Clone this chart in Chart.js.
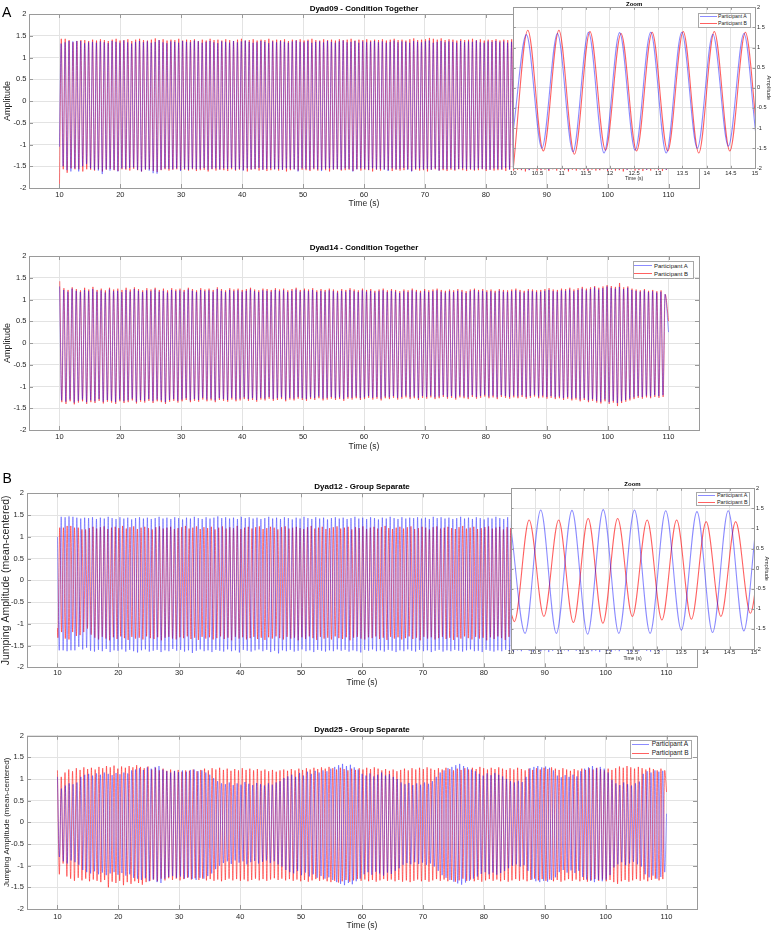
<!DOCTYPE html>
<html><head><meta charset="utf-8">
<script src="https://cdn.jsdelivr.net/npm/chart.js@4.4.1/dist/chart.umd.min.js"></script>
<style>
html,body{margin:0;padding:0;background:#fff;}
#wrap{position:relative;width:774px;height:933px;overflow:hidden;font-family:"Liberation Sans",Arial,Helvetica,sans-serif;}
canvas{position:absolute;}
.lbl{position:absolute;font-size:14px;line-height:14px;color:#000;z-index:5;}
.leg{position:absolute;background:#fff;border:1px solid #a8a8a8;box-sizing:border-box;z-index:5;}
.leg span{position:absolute;white-space:nowrap;color:#222;line-height:1;}
.leg i{position:absolute;height:0;border-top-width:1px;border-top-style:solid;}
</style></head><body><div id="wrap">
<div class="lbl" style="left:2px;top:5px;">A</div>
<div class="lbl" style="left:2.5px;top:471px;">B</div>
</div>
<script>
// ---------------- tick labels ----------------
const X_TICKS = [10,20,30,40,50,60,70,80,90,100,110];
const Y_TICKS = [-2,-1.5,-1,-0.5,0,0.5,1,1.5,2];
const ZOOM_X_TICKS = [10,10.5,11,11.5,12,12.5,13,13.5,14,14.5,15];
const SERIES_NAMES = ['Participant A','Participant B'];

// ---------------- Dyad09 (Condition Together) ----------------
const d09A_timing = {start:[10,-1.05], first:10.27, half:0.3215, firstIsPeak:true, end:[110,0.2]};
const d09B_timing = {start:[10,-2.0], first:10.30, half:0.3215, firstIsPeak:true, end:[110,0.1]};
const d09A_peaks = [1.32,1.35,1.38,1.37,1.38,1.38,1.33,1.35,1.36,1.34,
1.37,1.35,1.33,1.38,1.36,1.34,1.39,1.35,1.32,1.36,1.38,1.35,1.37,1.34,1.36,1.40,1.35,1.33,1.37,1.36,
1.34,1.38,1.36,1.35,1.39,1.37,1.34,1.36,1.38,1.35,1.33,1.37,1.36,1.34,1.38,1.35,1.37,1.39,1.36,1.34,
1.35,1.38,1.36,1.33,1.37,1.35,1.38,1.36,1.34,1.37,1.39,1.36,1.35,1.38,1.34,1.36,1.37,1.35,1.38,1.36,
1.34,1.37,1.39,1.35,1.36,1.38,1.34,1.37,1.35,1.36,1.38,1.35,1.37,1.34,1.36,1.39,1.35,1.37,1.36,1.34,
1.38,1.36,1.35,1.37,1.39,1.34,1.36,1.38,1.35,1.37,1.36,1.34,1.38,1.35,1.37,1.36,1.39,1.35,1.34,1.37,
1.36,1.38,1.35,1.37,1.34,1.36,1.38,1.35,1.37,1.36,1.34,1.38,1.36,1.35,1.37,1.39,1.35,1.36,1.38,1.34,
1.37,1.35,1.36,1.38,1.35,1.37,1.34,1.36,1.38,1.35,1.37,1.36,1.34,1.38,1.35,1.37,1.36,1.35,1.38,1.36,
1.34,1.37,1.35,1.36,1.38];
const d09A_troughs = [-1.50,-1.59,-1.62,-1.55,-1.62,-1.50,-1.45,-1.55,-1.58,-1.60,
-1.68,-1.57,-1.60,-1.58,-1.62,-1.55,-1.56,-1.54,-1.53,-1.58,-1.62,-1.57,-1.60,-1.66,-1.67,-1.58,-1.55,-1.56,-1.57,-1.55,
-1.61,-1.56,-1.58,-1.55,-1.57,-1.56,-1.54,-1.58,-1.56,-1.55,-1.57,-1.55,-1.56,-1.54,-1.58,-1.56,-1.60,-1.55,-1.57,-1.56,
-1.54,-1.58,-1.56,-1.55,-1.57,-1.56,-1.58,-1.55,-1.56,-1.57,-1.62,-1.55,-1.56,-1.58,-1.55,-1.57,-1.61,-1.56,-1.55,-1.57,
-1.56,-1.58,-1.55,-1.56,-1.62,-1.57,-1.55,-1.56,-1.58,-1.55,-1.57,-1.56,-1.58,-1.61,-1.55,-1.57,-1.56,-1.54,-1.58,-1.62,
-1.56,-1.55,-1.57,-1.56,-1.58,-1.55,-1.60,-1.56,-1.57,-1.55,-1.58,-1.56,-1.55,-1.57,-1.56,-1.58,-1.55,-1.56,-1.57,-1.58,
-1.55,-1.56,-1.57,-1.54,-1.58,-1.56,-1.55,-1.57,-1.56,-1.59,-1.55,-1.56,-1.57,-1.55,-1.58,-1.56,-1.55,-1.57,-1.56,-1.58,
-1.55,-1.56,-1.57,-1.55,-1.58,-1.56,-1.55,-1.57,-1.56,-1.58,-1.55,-1.56,-1.57,-1.55,-1.58,-1.56,-1.55,-1.57,-1.56,-1.58,
-1.55,-1.56,-1.57,-1.55,-1.58];
const d09B_peaks = [1.43,1.43,1.40,1.35,1.38,1.40,1.40,1.38,1.41,1.39,
1.42,1.40,1.38,1.41,1.43,1.39,1.40,1.42,1.38,1.41,1.43,1.40,1.39,1.41,1.44,1.40,1.42,1.39,1.41,1.40,
1.43,1.39,1.41,1.40,1.42,1.38,1.41,1.39,1.43,1.40,1.41,1.39,1.42,1.40,1.38,1.41,1.43,1.39,1.40,1.42,
1.39,1.41,1.40,1.43,1.39,1.41,1.40,1.42,1.38,1.41,1.40,1.42,1.39,1.41,1.43,1.40,1.39,1.42,1.40,1.41,
1.39,1.42,1.40,1.41,1.43,1.39,1.41,1.40,1.42,1.39,1.41,1.40,1.42,1.39,1.41,1.43,1.40,1.41,1.39,1.42,
1.44,1.40,1.41,1.42,1.45,1.43,1.41,1.44,1.40,1.42,1.41,1.39,1.42,1.40,1.41,1.43,1.40,1.42,1.39,1.41,
1.40,1.42,1.39,1.41,1.40,1.42,1.41,1.39,1.42,1.40,1.41,1.43,1.40,1.42,1.39,1.41,1.40,1.42,1.41,1.39,
1.42,1.40,1.41,1.43,1.40,1.42,1.39,1.41,1.40,1.42,1.41,1.39,1.42,1.40,1.41,1.43,1.40,1.42,1.39,1.41,
1.40,1.42,1.41,1.39,1.42];
const d09B_troughs = [-1.57,-1.65,-1.55,-1.57,-1.57,-1.62,-1.57,-1.58,-1.60,-1.57,
-1.62,-1.58,-1.56,-1.59,-1.61,-1.57,-1.58,-1.60,-1.56,-1.59,-1.62,-1.58,-1.57,-1.61,-1.63,-1.59,-1.57,-1.60,-1.58,-1.57,
-1.59,-1.58,-1.60,-1.57,-1.61,-1.59,-1.58,-1.62,-1.57,-1.60,-1.58,-1.59,-1.61,-1.57,-1.60,-1.58,-1.59,-1.62,-1.58,-1.57,
-1.60,-1.58,-1.61,-1.59,-1.57,-1.60,-1.58,-1.62,-1.59,-1.57,-1.60,-1.58,-1.59,-1.61,-1.57,-1.60,-1.58,-1.59,-1.62,-1.58,
-1.57,-1.60,-1.59,-1.58,-1.61,-1.57,-1.60,-1.58,-1.59,-1.62,-1.58,-1.60,-1.57,-1.59,-1.61,-1.58,-1.60,-1.59,-1.57,-1.61,
-1.58,-1.60,-1.59,-1.62,-1.58,-1.57,-1.60,-1.59,-1.61,-1.58,-1.60,-1.57,-1.59,-1.61,-1.58,-1.60,-1.59,-1.57,-1.61,-1.58,
-1.60,-1.59,-1.58,-1.61,-1.57,-1.60,-1.58,-1.59,-1.62,-1.58,-1.57,-1.60,-1.59,-1.58,-1.61,-1.57,-1.60,-1.58,-1.59,-1.62,
-1.58,-1.60,-1.57,-1.59,-1.61,-1.58,-1.60,-1.59,-1.57,-1.61,-1.58,-1.60,-1.59,-1.62,-1.58,-1.57,-1.60,-1.59,-1.61,-1.58,
-1.60,-1.57,-1.59,-1.61,-1.58];

// ---------------- Dyad14 (Condition Together) ----------------
const d14A_timing = {start:null, first:10.02, half:0.3404, firstIsPeak:true, end:[110,0.25]};
const d14B_timing = {start:null, first:10.05, half:0.3404, firstIsPeak:true, end:[110,0.5]};
const d14A_peaks = [1.30,1.22,1.18,1.25,1.20,1.17,1.22,1.19,1.24,1.18,
1.21,1.16,1.23,1.19,1.20,1.17,1.22,1.18,1.24,1.20,1.17,1.21,1.19,1.23,1.18,1.20,1.16,1.22,1.19,1.21,
1.18,1.23,1.20,1.17,1.22,1.19,1.21,1.18,1.24,1.20,1.17,1.22,1.19,1.21,1.18,1.20,1.23,1.19,1.17,1.21,
1.20,1.18,1.22,1.19,1.21,1.17,1.20,1.23,1.18,1.21,1.19,1.22,1.17,1.20,1.18,1.21,1.19,1.16,1.20,1.18,
1.22,1.19,1.17,1.21,1.18,1.20,1.16,1.19,1.21,1.17,1.20,1.18,1.15,1.19,1.17,1.21,1.18,1.16,1.20,1.17,
1.19,1.21,1.18,1.16,1.19,1.17,1.20,1.18,1.15,1.19,1.22,1.18,1.20,1.17,1.19,1.16,1.20,1.18,1.17,1.19,
1.21,1.18,1.16,1.20,1.19,1.17,1.18,1.20,1.22,1.19,1.18,1.21,1.20,1.23,1.19,1.22,1.25,1.21,1.24,1.28,
1.23,1.26,1.30,1.27,1.25,1.29,1.24,1.27,1.22,1.20,1.18,1.21,1.17,1.19,1.16,1.18,1.12];
const d14A_troughs = [-1.32,-1.35,-1.30,-1.37,-1.33,-1.30,-1.36,-1.32,-1.34,-1.29,
-1.35,-1.31,-1.33,-1.36,-1.30,-1.34,-1.32,-1.28,-1.35,-1.31,-1.33,-1.29,-1.34,-1.30,-1.32,-1.36,-1.31,-1.29,-1.33,-1.30,
-1.27,-1.32,-1.29,-1.31,-1.26,-1.30,-1.28,-1.32,-1.27,-1.29,-1.31,-1.26,-1.30,-1.28,-1.25,-1.29,-1.27,-1.31,-1.26,-1.28,
-1.24,-1.29,-1.27,-1.25,-1.30,-1.26,-1.28,-1.24,-1.27,-1.29,-1.25,-1.27,-1.23,-1.28,-1.26,-1.24,-1.27,-1.25,-1.29,-1.24,
-1.26,-1.23,-1.27,-1.25,-1.22,-1.26,-1.24,-1.28,-1.23,-1.25,-1.22,-1.26,-1.24,-1.21,-1.25,-1.23,-1.27,-1.22,-1.24,-1.21,
-1.25,-1.23,-1.20,-1.24,-1.22,-1.26,-1.21,-1.23,-1.25,-1.20,-1.24,-1.22,-1.19,-1.23,-1.21,-1.25,-1.20,-1.22,-1.24,-1.21,
-1.23,-1.20,-1.24,-1.22,-1.19,-1.23,-1.21,-1.24,-1.22,-1.25,-1.23,-1.27,-1.24,-1.28,-1.26,-1.30,-1.27,-1.32,-1.29,-1.33,
-1.35,-1.30,-1.36,-1.33,-1.38,-1.34,-1.31,-1.28,-1.25,-1.22,-1.24,-1.21,-1.23,-1.20,-1.22,-1.20];
const d14B_peaks = [1.42,1.26,1.22,1.28,1.24,1.21,1.27,1.23,1.29,1.22,
1.25,1.21,1.27,1.23,1.25,1.22,1.27,1.23,1.28,1.24,1.21,1.26,1.23,1.27,1.22,1.25,1.21,1.26,1.23,1.25,
1.22,1.27,1.24,1.21,1.26,1.23,1.25,1.22,1.28,1.24,1.21,1.26,1.23,1.25,1.22,1.24,1.27,1.23,1.21,1.25,
1.24,1.22,1.26,1.23,1.25,1.21,1.24,1.27,1.22,1.25,1.23,1.26,1.21,1.24,1.22,1.25,1.23,1.20,1.24,1.22,
1.26,1.23,1.21,1.25,1.22,1.24,1.20,1.23,1.25,1.21,1.24,1.22,1.19,1.23,1.21,1.25,1.22,1.20,1.24,1.21,
1.23,1.25,1.22,1.20,1.23,1.21,1.24,1.22,1.19,1.23,1.25,1.22,1.24,1.21,1.23,1.20,1.24,1.22,1.21,1.23,
1.25,1.22,1.20,1.24,1.23,1.21,1.22,1.24,1.26,1.23,1.22,1.25,1.24,1.27,1.23,1.26,1.29,1.25,1.28,1.31,
1.27,1.30,1.33,1.31,1.29,1.38,1.28,1.30,1.25,1.23,1.21,1.24,1.20,1.22,1.19,1.21,1.12];
const d14B_troughs = [-1.36,-1.40,-1.34,-1.41,-1.37,-1.34,-1.40,-1.36,-1.38,-1.33,
-1.39,-1.35,-1.37,-1.40,-1.34,-1.38,-1.36,-1.32,-1.39,-1.35,-1.37,-1.33,-1.38,-1.34,-1.36,-1.40,-1.35,-1.33,-1.37,-1.34,
-1.31,-1.36,-1.33,-1.35,-1.30,-1.34,-1.32,-1.36,-1.31,-1.33,-1.35,-1.30,-1.34,-1.32,-1.29,-1.33,-1.31,-1.35,-1.30,-1.32,
-1.28,-1.33,-1.31,-1.29,-1.34,-1.30,-1.32,-1.28,-1.31,-1.33,-1.29,-1.31,-1.27,-1.32,-1.30,-1.28,-1.31,-1.29,-1.33,-1.28,
-1.30,-1.27,-1.31,-1.29,-1.26,-1.30,-1.28,-1.32,-1.27,-1.29,-1.26,-1.30,-1.28,-1.25,-1.29,-1.27,-1.31,-1.26,-1.28,-1.25,
-1.29,-1.27,-1.24,-1.28,-1.26,-1.30,-1.25,-1.27,-1.29,-1.24,-1.28,-1.26,-1.23,-1.27,-1.25,-1.29,-1.24,-1.26,-1.28,-1.25,
-1.27,-1.24,-1.28,-1.26,-1.23,-1.27,-1.25,-1.28,-1.26,-1.29,-1.27,-1.31,-1.28,-1.32,-1.30,-1.34,-1.31,-1.36,-1.33,-1.37,
-1.39,-1.34,-1.40,-1.37,-1.45,-1.38,-1.35,-1.32,-1.29,-1.26,-1.28,-1.25,-1.27,-1.24,-1.26,-1.24];

// ---------------- Dyad12 (Group Separate) ----------------
const d12A_timing = {start:[10,1.0], first:10.29, half:0.3215, firstIsPeak:false, end:[110,0.0]};
const d12B_timing = {start:[10,-1.1], first:10.07, half:0.3035, firstIsPeak:false, end:[110,0.3]};
const d12A_peaks = [1.46,1.45,1.47,1.46,1.44,1.42,1.44,1.43,1.45,1.41,
1.44,1.42,1.46,1.43,1.41,1.45,1.42,1.44,1.40,1.43,1.45,1.42,1.44,1.41,1.43,1.46,1.42,1.44,1.41,1.45,
1.43,1.40,1.44,1.42,1.46,1.43,1.41,1.45,1.42,1.44,1.47,1.43,1.45,1.42,1.44,1.41,1.46,1.43,1.45,1.42,
1.44,1.41,1.43,1.46,1.42,1.44,1.41,1.45,1.43,1.40,1.44,1.42,1.46,1.43,1.41,1.45,1.42,1.44,1.40,1.43,
1.45,1.42,1.44,1.41,1.43,1.46,1.42,1.44,1.41,1.45,1.43,1.40,1.44,1.42,1.46,1.43,1.41,1.45,1.42,1.44,
1.43,1.45,1.42,1.44,1.41,1.46,1.43,1.45,1.42,1.44,1.41,1.43,1.46,1.42,1.44,1.41,1.45,1.43,1.40,1.44,
1.42,1.46,1.43,1.41,1.45,1.42,1.44,1.40,1.43,1.45,1.42,1.44,1.41,1.43,1.46,1.42,1.44,1.41,1.45,1.43,
1.40,1.44,1.42,1.46,1.43,1.41,1.45,1.42,1.44,1.43,1.45,1.42,1.44,1.41,1.46,1.43,1.45,1.42,1.44,1.41,
1.43,1.46,1.42,1.44,1.41];
const d12A_troughs = [-1.61,-1.61,-1.63,-1.61,-1.61,-1.53,-1.59,-1.55,-1.62,-1.64,
-1.60,-1.63,-1.58,-1.65,-1.61,-1.62,-1.59,-1.64,-1.60,-1.63,-1.66,-1.61,-1.59,-1.64,-1.62,-1.60,-1.65,-1.61,-1.63,-1.58,
-1.62,-1.60,-1.64,-1.61,-1.67,-1.62,-1.59,-1.63,-1.61,-1.65,-1.60,-1.62,-1.64,-1.59,-1.63,-1.61,-1.66,-1.60,-1.62,-1.64,
-1.61,-1.59,-1.63,-1.60,-1.65,-1.62,-1.68,-1.61,-1.63,-1.60,-1.64,-1.62,-1.59,-1.63,-1.61,-1.65,-1.60,-1.62,-1.64,-1.61,
-1.63,-1.59,-1.62,-1.60,-1.64,-1.61,-1.63,-1.66,-1.60,-1.62,-1.59,-1.63,-1.61,-1.64,-1.60,-1.62,-1.65,-1.61,-1.63,-1.59,
-1.62,-1.64,-1.60,-1.63,-1.61,-1.65,-1.62,-1.60,-1.64,-1.61,-1.63,-1.60,-1.62,-1.64,-1.61,-1.59,-1.63,-1.62,-1.65,-1.60,
-1.62,-1.64,-1.61,-1.63,-1.60,-1.62,-1.65,-1.61,-1.63,-1.59,-1.62,-1.64,-1.60,-1.63,-1.61,-1.65,-1.62,-1.60,-1.64,-1.61,
-1.63,-1.60,-1.62,-1.64,-1.61,-1.59,-1.63,-1.62,-1.65,-1.60,-1.62,-1.64,-1.61,-1.63,-1.60,-1.62,-1.65,-1.61,-1.63,-1.59,
-1.62,-1.64,-1.60,-1.63,-1.61];
const d12B_peaks = [1.21,1.21,1.25,1.25,1.21,1.21,1.17,1.17,1.20,1.23,
1.19,1.22,1.24,1.18,1.21,1.23,1.20,1.25,1.19,1.22,1.24,1.18,1.21,1.23,1.20,1.17,1.22,1.24,1.19,1.21,
1.23,1.18,1.20,1.22,1.25,1.19,1.21,1.24,1.18,1.22,1.20,1.23,1.17,1.21,1.24,1.19,1.22,1.20,1.25,1.18,
1.21,1.23,1.19,1.22,1.24,1.18,1.20,1.23,1.21,1.17,1.22,1.24,1.19,1.21,1.23,1.20,1.18,1.22,1.25,1.19,
1.21,1.23,1.18,1.20,1.22,1.24,1.19,1.21,1.23,1.17,1.22,1.20,1.24,1.18,1.21,1.23,1.19,1.22,1.25,1.20,
1.18,1.21,1.23,1.19,1.22,1.24,1.18,1.20,1.23,1.21,1.17,1.22,1.24,1.19,1.21,1.23,1.20,1.18,1.22,1.25,
1.19,1.21,1.23,1.18,1.20,1.22,1.24,1.19,1.21,1.23,1.17,1.22,1.20,1.24,1.18,1.21,1.23,1.19,1.22,1.25,
1.20,1.18,1.21,1.23,1.19,1.22,1.24,1.18,1.20,1.23,1.21,1.17,1.22,1.24,1.19,1.21,1.23,1.20,1.18,1.22,
1.25,1.19,1.21,1.23,1.18,1.20,1.22,1.24,1.19,1.21,1.23,1.17,1.22,1.20];
const d12B_troughs = [-1.32,-1.19,-1.34,-1.36,-1.19,-1.28,-1.26,-1.19,-1.11,-1.25,
-1.32,-1.36,-1.30,-1.34,-1.38,-1.31,-1.35,-1.29,-1.33,-1.37,-1.30,-1.34,-1.32,-1.36,-1.29,-1.33,-1.35,-1.31,-1.38,-1.32,
-1.30,-1.34,-1.36,-1.31,-1.33,-1.29,-1.35,-1.32,-1.37,-1.30,-1.34,-1.31,-1.36,-1.33,-1.29,-1.35,-1.32,-1.38,-1.30,-1.34,
-1.31,-1.36,-1.33,-1.30,-1.35,-1.32,-1.37,-1.31,-1.34,-1.29,-1.33,-1.36,-1.30,-1.34,-1.32,-1.38,-1.31,-1.35,-1.29,-1.33,
-1.37,-1.30,-1.34,-1.32,-1.36,-1.29,-1.33,-1.35,-1.31,-1.38,-1.32,-1.30,-1.34,-1.36,-1.31,-1.33,-1.29,-1.35,-1.32,-1.37,
-1.30,-1.34,-1.31,-1.36,-1.33,-1.29,-1.35,-1.32,-1.38,-1.30,-1.34,-1.31,-1.36,-1.33,-1.30,-1.35,-1.32,-1.37,-1.31,-1.34,
-1.29,-1.33,-1.36,-1.30,-1.34,-1.32,-1.38,-1.31,-1.35,-1.29,-1.33,-1.37,-1.30,-1.34,-1.32,-1.36,-1.29,-1.33,-1.35,-1.31,
-1.38,-1.32,-1.30,-1.34,-1.36,-1.31,-1.33,-1.29,-1.35,-1.32,-1.37,-1.30,-1.34,-1.31,-1.36,-1.33,-1.29,-1.35,-1.32,-1.38,
-1.30,-1.34,-1.31,-1.36,-1.33,-1.30,-1.35,-1.32,-1.37,-1.31,-1.34,-1.29,-1.33,-1.36,-1.30];

// ---------------- Dyad25 (Group Separate) ----------------
const d25A_timing = {start:null, first:10.0, half:0.32058, firstIsPeak:true, end:[110,0.2]};
const d25B_timing = {start:null, first:10.0, half:0.30963, firstIsPeak:true, end:[110,0.7]};
const d25A_peaks = [1.05,0.78,0.85,0.90,0.88,0.92,1.05,1.10,1.12,1.08,
1.13,1.10,1.15,1.12,1.09,1.14,1.11,1.15,1.13,1.20,1.22,1.25,1.21,1.27,1.24,1.28,1.30,1.22,1.18,1.15,
1.19,1.16,1.20,1.17,1.21,1.22,1.18,1.20,1.15,1.10,1.02,0.95,0.90,0.88,0.92,0.86,0.90,0.87,0.93,0.89,
0.86,0.91,0.88,0.85,0.90,0.87,0.92,0.95,1.02,1.06,1.10,1.05,1.14,1.08,1.17,1.12,1.19,1.15,1.20,1.18,
1.24,1.28,1.32,1.35,1.30,1.33,1.27,1.22,1.12,1.08,1.13,1.06,1.10,1.15,1.08,1.11,1.05,1.00,0.92,0.88,
0.91,0.86,0.90,0.87,0.92,0.89,0.95,1.05,1.15,1.20,1.25,1.28,1.32,1.35,1.30,1.27,1.22,1.18,1.12,1.08,
1.13,1.09,1.14,1.10,1.06,1.00,0.95,0.92,0.96,0.93,1.05,1.25,1.28,1.30,1.27,1.29,1.26,1.20,1.08,1.04,
1.09,1.05,1.10,1.06,1.18,1.24,1.27,1.30,1.25,1.28,1.24,1.15,0.98,0.90,0.86,0.92,0.88,0.85,0.90,0.94,
1.12,1.18,1.15,1.20,1.17,1.19];
const d25A_troughs = [-0.80,-0.90,-0.95,-0.88,-0.92,-0.98,-1.10,-1.15,-1.18,-1.13,
-1.20,-1.16,-1.22,-1.18,-1.15,-1.21,-1.17,-1.23,-1.20,-1.28,-1.30,-1.33,-1.29,-1.36,-1.32,-1.38,-1.40,-1.30,-1.26,-1.24,
-1.28,-1.25,-1.30,-1.27,-1.31,-1.33,-1.28,-1.30,-1.24,-1.18,-1.08,-1.00,-0.94,-0.90,-0.96,-0.88,-0.93,-0.90,-0.97,-0.92,
-0.89,-0.95,-0.91,-0.88,-0.94,-0.90,-0.97,-1.02,-1.10,-1.15,-1.18,-1.12,-1.22,-1.16,-1.25,-1.20,-1.28,-1.24,-1.30,-1.27,
-1.33,-1.38,-1.42,-1.45,-1.40,-1.43,-1.36,-1.30,-1.20,-1.15,-1.21,-1.14,-1.18,-1.23,-1.16,-1.19,-1.12,-1.06,-0.98,-0.94,
-0.97,-0.92,-0.96,-0.93,-0.98,-0.95,-1.02,-1.12,-1.22,-1.28,-1.33,-1.37,-1.41,-1.44,-1.39,-1.35,-1.30,-1.25,-1.19,-1.15,
-1.20,-1.16,-1.21,-1.17,-1.12,-1.06,-1.00,-0.97,-1.02,-0.99,-1.12,-1.32,-1.36,-1.38,-1.35,-1.37,-1.33,-1.27,-1.15,-1.10,
-1.16,-1.11,-1.17,-1.12,-1.26,-1.32,-1.35,-1.38,-1.33,-1.36,-1.32,-1.22,-1.04,-0.97,-0.92,-0.99,-0.95,-0.91,-0.97,-1.02,
-1.20,-1.27,-1.23,-1.30,-1.26,-1.15];
const d25B_peaks = [1.20,1.05,1.15,1.22,1.18,1.25,1.21,1.27,1.23,1.26,
1.22,1.28,1.25,1.30,1.27,1.31,1.24,1.29,1.26,1.30,1.27,1.32,1.28,1.25,1.29,1.22,1.26,1.20,1.24,1.19,
1.22,1.18,1.21,1.17,1.20,1.19,1.22,1.18,1.21,1.24,1.20,1.25,1.22,1.26,1.21,1.24,1.19,1.23,1.20,1.25,
1.21,1.24,1.20,1.23,1.19,1.22,1.18,1.21,1.17,1.20,1.22,1.19,1.23,1.20,1.24,1.21,1.25,1.22,1.26,1.23,
1.27,1.24,1.28,1.25,1.22,1.26,1.23,1.20,1.24,1.21,1.25,1.22,1.26,1.23,1.27,1.24,1.20,1.23,1.19,1.22,
1.18,1.21,1.24,1.20,1.25,1.22,1.26,1.23,1.27,1.24,1.21,1.25,1.22,1.26,1.23,1.20,1.24,1.21,1.25,1.22,
1.26,1.23,1.28,1.25,1.22,1.26,1.23,1.27,1.24,1.21,1.25,1.22,1.26,1.23,1.20,1.24,1.21,1.25,1.22,1.26,
1.23,1.27,1.24,1.21,1.25,1.22,1.19,1.23,1.20,1.24,1.21,1.25,1.22,1.26,1.23,1.20,1.24,1.21,1.25,1.29,
1.26,1.30,1.27,1.24,1.28,1.25,1.22,1.26,1.23,1.20,1.24,1.20];
const d25B_troughs = [-1.20,-0.95,-1.25,-1.30,-1.35,-1.28,-1.34,-1.30,-1.36,-1.32,
-1.35,-1.38,-1.33,-1.50,-1.37,-1.40,-1.35,-1.45,-1.38,-1.42,-1.36,-1.40,-1.44,-1.38,-1.35,-1.32,-1.36,-1.30,-1.34,-1.29,
-1.33,-1.30,-1.34,-1.31,-1.28,-1.32,-1.29,-1.33,-1.30,-1.34,-1.31,-1.35,-1.32,-1.36,-1.33,-1.30,-1.34,-1.31,-1.35,-1.32,
-1.36,-1.33,-1.30,-1.34,-1.31,-1.35,-1.32,-1.29,-1.33,-1.30,-1.34,-1.31,-1.35,-1.32,-1.36,-1.33,-1.37,-1.34,-1.31,-1.35,
-1.32,-1.36,-1.38,-1.35,-1.39,-1.36,-1.33,-1.37,-1.34,-1.31,-1.35,-1.32,-1.36,-1.33,-1.37,-1.34,-1.31,-1.35,-1.32,-1.36,
-1.33,-1.37,-1.34,-1.38,-1.35,-1.32,-1.36,-1.33,-1.37,-1.34,-1.31,-1.35,-1.32,-1.36,-1.33,-1.37,-1.34,-1.30,-1.35,-1.32,
-1.36,-1.33,-1.37,-1.34,-1.31,-1.35,-1.32,-1.36,-1.33,-1.37,-1.34,-1.31,-1.35,-1.32,-1.36,-1.33,-1.30,-1.34,-1.31,-1.35,
-1.32,-1.36,-1.33,-1.37,-1.34,-1.31,-1.35,-1.32,-1.36,-1.33,-1.37,-1.34,-1.31,-1.35,-1.32,-1.36,-1.33,-1.38,-1.42,-1.36,
-1.33,-1.37,-1.34,-1.31,-1.35,-1.32,-1.36,-1.33,-1.30,-1.34,-1.31];

// ---------------- styles ----------------
const COLOR_A = 'rgba(0,0,255,0.45)';
const COLOR_B = 'rgba(255,0,0,0.62)';
const FONT = '"Liberation Sans", Arial, Helvetica, sans-serif';
Chart.defaults.font.family = FONT;
Chart.defaults.color = '#262626';

function buildSeries(tm, peaks, troughs) {
  const pts = [];
  if (tm.start) pts.push({x: tm.start[0], y: tm.start[1]});
  const a = tm.firstIsPeak ? peaks : troughs, b = tm.firstIsPeak ? troughs : peaks;
  for (let k = 0; ; k++) {
    const v = (k % 2 === 0) ? a[k >> 1] : b[k >> 1];
    const t = tm.first + k * tm.half;
    if (v === undefined || t >= tm.end[0] - 0.05) break;
    pts.push({x: +t.toFixed(4), y: v});
  }
  pts.push({x: tm.end[0], y: tm.end[1]});
  return pts;
}

const S = {
  d09: [buildSeries(d09A_timing, d09A_peaks, d09A_troughs), buildSeries(d09B_timing, d09B_peaks, d09B_troughs)],
  d14: [buildSeries(d14A_timing, d14A_peaks, d14A_troughs), buildSeries(d14B_timing, d14B_peaks, d14B_troughs)],
  d12: [buildSeries(d12A_timing, d12A_peaks, d12A_troughs), buildSeries(d12B_timing, d12B_peaks, d12B_troughs)],
  d25: [buildSeries(d25A_timing, d25A_peaks, d25A_troughs), buildSeries(d25B_timing, d25B_peaks, d25B_troughs)]
};

const boxPlugin = {
  id: 'box',
  beforeDraw(chart, args, opts) {
    if (!opts.white) return;
    const {ctx, chartArea: a} = chart;
    ctx.save(); ctx.fillStyle = '#fff';
    ctx.fillRect(a.left, a.top, a.right - a.left, a.bottom - a.top);
    ctx.restore();
  },
  afterDatasetsDraw(chart, args, opts) {
    const {ctx, chartArea: a} = chart;
    const xs = chart.scales.x, ys = chart.scales.y;
    const tl = opts.tick;
    ctx.save();
    ctx.strokeStyle = '#9a9a9a'; ctx.lineWidth = 1;
    ctx.beginPath();
    xs.ticks.forEach(t => { const p = Math.round(xs.getPixelForValue(t.value)) + 0.5;
      ctx.moveTo(p, a.bottom); ctx.lineTo(p, a.bottom - tl); ctx.moveTo(p, a.top); ctx.lineTo(p, a.top + tl); });
    ys.ticks.forEach(t => { const p = Math.round(ys.getPixelForValue(t.value)) + 0.5;
      ctx.moveTo(a.left, p); ctx.lineTo(a.left + tl, p); ctx.moveTo(a.right, p); ctx.lineTo(a.right - tl, p); });
    ctx.stroke();
    const l = Math.round(a.left) + 0.5, t = Math.round(a.top) + 0.5;
    ctx.strokeRect(l, t, Math.round(a.right) - Math.round(a.left), Math.round(a.bottom) - Math.round(a.top));
    ctx.restore();
  }
};

const wrap = document.getElementById('wrap');
const fmt = v => String(v);

function makePanel(c) {
  const cv = document.createElement('canvas');
  cv.width = c.w; cv.height = c.h;
  Object.assign(cv.style, {left: c.left + 'px', top: c.top + 'px', width: c.w + 'px', height: c.h + 'px', zIndex: c.z});
  wrap.appendChild(cv);
  const tLH = c.titleSize * c.titleLH;
  const yLH = c.yTitleSize * 1.2, xLH = c.xTitleSize * 1.2;
  const right = c.yPos === 'right';
  new Chart(cv.getContext('2d'), {
    type: 'line',
    data: { datasets: [
      {label: SERIES_NAMES[0], data: c.data[0], borderColor: COLOR_A, borderWidth: c.lw, pointRadius: 0, fill: false, cubicInterpolationMode: 'monotone'},
      {label: SERIES_NAMES[1], data: c.data[1], borderColor: COLOR_B, borderWidth: c.lw, pointRadius: 0, fill: false, cubicInterpolationMode: 'monotone'}
    ]},
    plugins: [boxPlugin],
    options: {
      responsive: false, animation: false, devicePixelRatio: 1, events: [], parsing: false,
      layout: {padding: {left: right ? c.L : 0, right: right ? 0 : c.w - c.R, top: 0, bottom: 0}},
      plugins: {
        legend: {display: false}, tooltip: {enabled: false},
        title: {display: true, text: c.title, fullSize: false,
          font: {size: c.titleSize, weight: 'bold', lineHeight: c.titleLH}, color: '#000',
          padding: {top: c.titleC - tLH / 2, bottom: c.T - (c.titleC + tLH / 2)}},
        box: {tick: c.tick, white: c.white}
      },
      scales: {
        x: {type: 'linear', position: 'bottom', min: c.xMin, max: c.xMax,
          afterBuildTicks: s => { s.ticks = c.xTicks.map(v => ({value: v})); },
          afterFit: s => { s.height = c.h - c.B; },
          ticks: {autoSkip: false, maxRotation: 0, padding: c.xTickPad, font: {size: c.xTickSize}, color: '#262626', callback: fmt},
          grid: {color: '#e3e3e3', drawTicks: false},
          border: {display: false},
          title: {display: true, text: 'Time (s)', font: {size: c.xTitleSize}, color: '#262626',
            padding: {top: 0, bottom: c.h - c.xTitleC - xLH / 2}}
        },
        y: {type: 'linear', position: c.yPos, min: -2, max: 2,
          afterBuildTicks: s => { s.ticks = Y_TICKS.map(v => ({value: v})); },
          afterFit: s => { s.width = right ? c.w - c.R : c.L; },
          ticks: {padding: c.yTickPad, font: {size: c.yTickSize}, color: '#262626', callback: fmt},
          grid: {color: '#e3e3e3', drawTicks: false},
          border: {display: false},
          title: {display: true, text: c.yTitle, font: {size: c.yTitleSize}, color: '#262626',
            padding: {top: right ? c.w - c.yTitleC - yLH / 2 : c.yTitleC - yLH / 2, bottom: 0}}
        }
      }
    }
  });
}

const mainCommon = {w: 774, z: 1, yPos: 'left', xMin: 5, xMax: 115, xTicks: X_TICKS, lw: 0.85,
  titleSize: 8, titleLH: 1.2, xTickSize: 7.5, yTickSize: 7.5, xTitleSize: 8.5, tick: 4, white: false};
const zoomCommon = {z: 2, yPos: 'right', xMin: 10, xMax: 15, xTicks: ZOOM_X_TICKS, lw: 1.1,
  titleSize: 6, titleLH: 1, xTickSize: 5.8, yTickSize: 5.6, xTitleSize: 5, yTitleSize: 5.5, yTitle: 'Amplitude',
  title: 'Zoom', tick: 2.5, white: true, yTickPad: 2};

makePanel(Object.assign({}, mainCommon, {left: 0, top: 0, h: 210, L: 29, R: 699, T: 14, B: 188,
  title: 'Dyad09 - Condition Together', titleC: 9, yTitle: 'Amplitude', yTitleSize: 9, yTitleC: 8, yTickPad: 2.5,
  xTickPad: 2.5, xTitleC: 204, data: S.d09}));
makePanel(Object.assign({}, mainCommon, {left: 0, top: 236, h: 217, L: 29, R: 699, T: 20, B: 194,
  title: 'Dyad14 - Condition Together', titleC: 12, yTitle: 'Amplitude', yTitleSize: 9, yTitleC: 8, yTickPad: 2.5,
  xTickPad: 2.5, xTitleC: 211, data: S.d14}));
makePanel(Object.assign({}, mainCommon, {left: 0, top: 470, h: 219, L: 27, R: 697, T: 23.3, B: 197.3,
  title: 'Dyad12 - Group Separate', titleC: 17, yTitle: 'Jumping Amplitude (mean-centered)', yTitleSize: 10.5, yTitleC: 6.6,
  yTickPad: 3, xTickPad: 1.5, xTitleC: 213, data: S.d12}));
makePanel(Object.assign({}, mainCommon, {left: 0, top: 712, h: 220, L: 27, R: 697, T: 23.7, B: 197,
  title: 'Dyad25 - Group Separate', titleC: 18, yTitle: 'Jumping Amplitude (mean-centered)', yTitleSize: 8, yTitleC: 6.3,
  yTickPad: 3, xTickPad: 3, xTitleC: 214, data: S.d25}));

makePanel(Object.assign({}, zoomCommon, {left: 505, top: 0, w: 269, h: 183, L: 8.3, R: 250, T: 7.3, B: 168.3,
  titleC: 4, yTitleC: 264, xTickPad: 1.7, xTitleC: 179, data: S.d09}));
makePanel(Object.assign({}, zoomCommon, {left: 503, top: 480, w: 271, h: 183, L: 8, R: 251, T: 8.3, B: 169,
  titleC: 4, yTitleC: 263.7, xTickPad: 0.4, xTitleC: 179, data: S.d12}));

// ---------------- legends ----------------
function makeLegend(x, y, w, h, rowYs, lx0, lx1, tx, fs) {
  const d = document.createElement('div');
  d.className = 'leg';
  Object.assign(d.style, {left: x + 'px', top: y + 'px', width: w + 'px', height: h + 'px'});
  [COLOR_A, COLOR_B].forEach((col, i) => {
    const ln = document.createElement('i');
    Object.assign(ln.style, {left: (lx0 - x - 1) + 'px', width: (lx1 - lx0) + 'px', top: (rowYs[i] - y - 1.5) + 'px', borderTopColor: col});
    d.appendChild(ln);
    const sp = document.createElement('span');
    sp.textContent = SERIES_NAMES[i];
    Object.assign(sp.style, {left: (tx - x - 1) + 'px', top: (rowYs[i] - y - 1 - fs / 2) + 'px', fontSize: fs + 'px'});
    d.appendChild(sp);
  });
  wrap.appendChild(d);
}
makeLegend(632.7, 260.7, 61.3, 18.6, [265.7, 274], 634, 652, 654, 6);
makeLegend(630, 740, 62.3, 19.3, [744.5, 753.5], 631.7, 649.3, 651.7, 6.5);
makeLegend(698, 12.7, 52.7, 15.6, [16.2, 23.8], 699.5, 716.7, 718, 5.1);
makeLegend(696, 491.7, 54, 14.3, [495.8, 503], 697.5, 715, 717, 5.4);
</script>
</body></html>
